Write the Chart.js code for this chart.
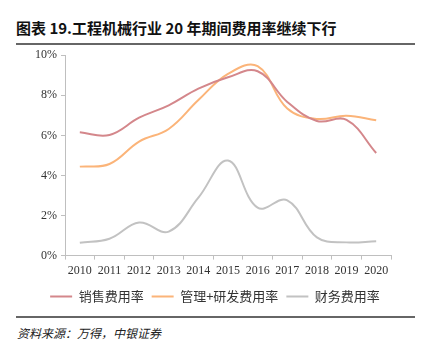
<!DOCTYPE html>
<html>
<head>
<meta charset="utf-8">
<script src="https://cdn.jsdelivr.net/npm/chart.js@4/dist/chart.umd.min.js"></script>
<style>
  html, body { margin: 0; padding: 0; background: #fff; }
  body { width: 430px; height: 349px; position: relative; overflow: hidden; }
  .title { position: absolute; left: 16px; top: 17px; font: bold 15px "Noto Sans CJK SC", sans-serif; color: #111; white-space: nowrap; }
  .rule { position: absolute; left: 16px; width: 399px; height: 2px; background: #666; }
  .src { position: absolute; left: 17px; top: 324px; font: italic 12px "Noto Sans CJK SC", sans-serif; color: #222; }
  #wrap { position: absolute; left: 0; top: 44px; width: 430px; height: 269px; }
</style>
</head>
<body>
<div class="title">图表 19.工程机械行业 20 年期间费用率继续下行</div>
<div class="rule" style="top:43px"></div>
<div id="wrap"><canvas id="chart"></canvas></div>
<div class="rule" style="top:316px"></div>
<div class="src">资料来源：万得，中银证券</div>
<script>
// 年份
const years = ['2010', '2011', '2012', '2013', '2014', '2015', '2016', '2017', '2018', '2019', '2020'];
// 费用率 (%)
const salesRate = [6.15, 6.02, 6.88, 7.5, 8.33, 8.9, 9.2, 7.67, 6.72, 6.77, 5.12];
const adminRdRate = [4.44, 4.57, 5.69, 6.32, 7.76, 9.07, 9.45, 7.34, 6.82, 6.98, 6.75];
const financeRate = [0.64, 0.84, 1.65, 1.2, 2.89, 4.74, 2.39, 2.76, 0.91, 0.66, 0.71];
const seriesNames = ['销售费用率', '管理+研发费用率', '财务费用率'];
const yTicks = [0, 2, 4, 6, 8, 10];

const colors = ['#d4878b', '#fbb479', '#c2c2c2'];
const values = [salesRate, adminRdRate, financeRate];

const datasets = seriesNames.map((name, i) => ({
  label: name,
  data: values[i],
  borderColor: colors[i],
  backgroundColor: colors[i],
  borderWidth: 2,
  pointRadius: 0,
  pointStyle: 'line',
  tension: 0.4,
  fill: false,
}));

// 图例居中于整张图 (左右边距不对称)
const centerLegend = {
  id: 'centerLegend',
  afterLayout(chart) {
    const lg = chart.legend;
    const shift = (chart.width - lg.right - lg.left) / 2;
    lg.left += shift;
    lg.right += shift;
  },
};

const ctx = document.getElementById('chart').getContext('2d');
new Chart(ctx, {
  type: 'line',
  data: { labels: years, datasets: datasets },
  plugins: [centerLegend],
  options: {
    responsive: true,
    maintainAspectRatio: false,
    animation: false,
    layout: { padding: { left: 28, right: 39, top: 2, bottom: 0 } },
    scales: {
      x: {
        offset: true,
        grid: { offset: true, drawOnChartArea: false, tickLength: 4, color: '#bfbfbf' },
        border: { color: '#bfbfbf' },
        ticks: { color: '#333', padding: 4, maxRotation: 0, font: { family: 'Liberation Serif', size: 12 } },
      },
      y: {
        min: 0,
        max: 10,
        afterBuildTicks: (axis) => { axis.ticks = yTicks.map(v => ({ value: v })); },
        afterFit: (axis) => { axis.width = 37; },
        grid: { drawOnChartArea: false, tickLength: 4, color: '#bfbfbf' },
        border: { color: '#bfbfbf' },
        ticks: { color: '#333', padding: 4, callback: (v) => v + '%', font: { family: 'Liberation Serif', size: 12 } },
      },
    },
    plugins: {
      tooltip: { enabled: false },
      legend: {
        position: 'bottom',
        labels: {
          usePointStyle: true,
          pointStyleWidth: 22,
          boxHeight: 13,
          padding: 8,
          color: '#333',
          font: { family: 'Noto Sans CJK SC', size: 13 },
        },
      },
    },
  },
});
</script>
</body>
</html>
